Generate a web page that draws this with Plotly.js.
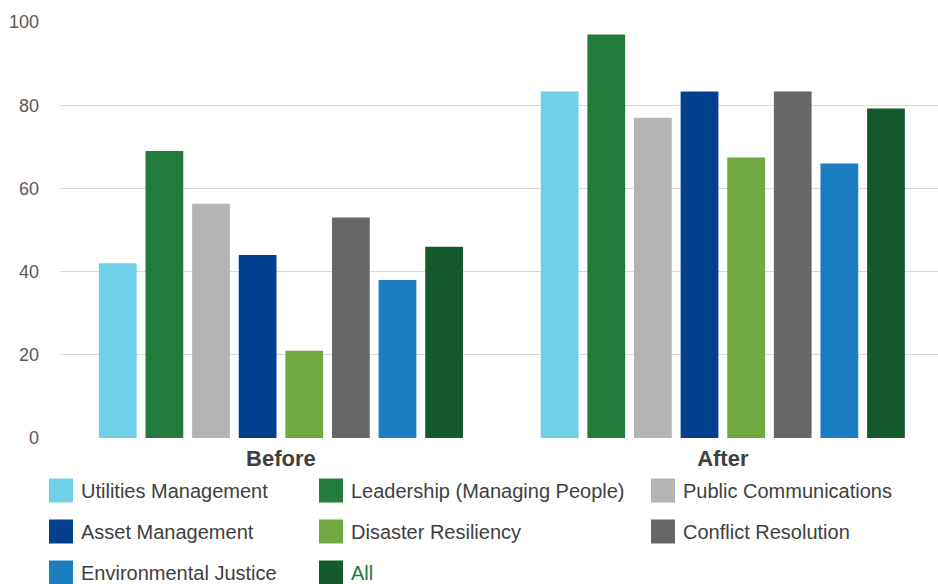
<!DOCTYPE html>
<html>
<head>
<meta charset="utf-8">
<script src="https://cdn.plot.ly/plotly-3.0.1.min.js"></script>
<style>html,body{margin:0;padding:0;background:#fff;}#chart{width:938px;height:584px;}</style>
</head>
<body>
<div id="chart"></div>
<script>
// ---- data ----
const periods = ["Before", "After"];
const seriesNames = [
  "Utilities Management",
  "Leadership (Managing People)",
  "Public Communications",
  "Asset Management",
  "Disaster Resiliency",
  "Conflict Resolution",
  "Environmental Justice",
  "All"
];
const utilitiesManagement = [42, 83.3];
const leadership = [69, 97];
const publicCommunications = [56.3, 77];
const assetManagement = [44, 83.3];
const disasterResiliency = [21, 67.4];
const conflictResolution = [53, 83.3];
const environmentalJustice = [38, 66];
const allSkills = [46, 79.2];
const seriesValues = [utilitiesManagement, leadership, publicCommunications, assetManagement,
  disasterResiliency, conflictResolution, environmentalJustice, allSkills];
const yTicks = [0, 20, 40, 60, 80, 100];

// ---- styles ----
const colors = ["#6fd0e8", "#237b3b", "#b4b4b4", "#03418f", "#70a940", "#676767", "#1c7dc0", "#155a2e"];
const legendIds = ["legend", "legend2", "legend3"];
const FONT = "Liberation Sans, Arial, sans-serif";

const traces = seriesNames.map((name, i) => ({
  type: "bar",
  name: name === "All" ? '<span style="color:#217a3a">All</span>' : name,
  x: periods,
  y: seriesValues[i],
  marker: { color: colors[i], line: { width: 0 } },
  legend: legendIds[i % 3],
  legendgroup: "g" + i,
  hoverinfo: "x+y+name"
}));

function legendAt(px, py) {
  return {
    xref: "container", yref: "container",
    x: px / 938, y: 1 - py / 584,
    xanchor: "left", yanchor: "top",
    orientation: "v",
    traceorder: "grouped",
    tracegroupgap: 12,
    bgcolor: "rgba(0,0,0,0)",
    borderwidth: 0,
    font: { family: FONT, size: 20, color: "#404040" }
  };
}

const layout = {
  width: 938, height: 584,
  margin: { l: 60, r: 0, t: 22, b: 146, autoexpand: false },
  paper_bgcolor: "#ffffff",
  plot_bgcolor: "#ffffff",
  font: { family: FONT, color: "#595959" },
  barmode: "group",
  bargap: 0.156,
  bargroupgap: 0.19,
  xaxis: {
    type: "category",
    range: [-0.5, 1.487],
    showgrid: false, zeroline: false, showline: false,
    ticks: "",
    tickfont: { family: FONT, size: 22, color: "#404040", weight: "bold" },
    ticklabelstandoff: 5,
    automargin: false
  },
  yaxis: {
    range: [0, 100],
    tickvals: yTicks,
    showgrid: true, gridcolor: "#d9d9d9", gridwidth: 1.4,
    zeroline: false, showline: false,
    ticks: "",
    tickfont: { family: FONT, size: 18, color: "#595959" },
    ticklabelstandoff: 20,
    automargin: false
  },
  showlegend: true,
  legend: legendAt(41, 471),
  legend2: legendAt(311, 471),
  legend3: legendAt(643, 471)
};

function bigSwatches(gd) {
  gd.querySelectorAll("g.legendpoints path").forEach(p => {
    p.setAttribute("d", "M12,12H-12V-12H12Z");
  });
}
const gd = document.getElementById("chart");
Plotly.newPlot(gd, traces, layout, { displayModeBar: false, staticPlot: true }).then(() => {
  bigSwatches(gd);
  gd.on("plotly_afterplot", () => bigSwatches(gd));
  setTimeout(() => bigSwatches(gd), 30);
});
</script>
</body>
</html>
